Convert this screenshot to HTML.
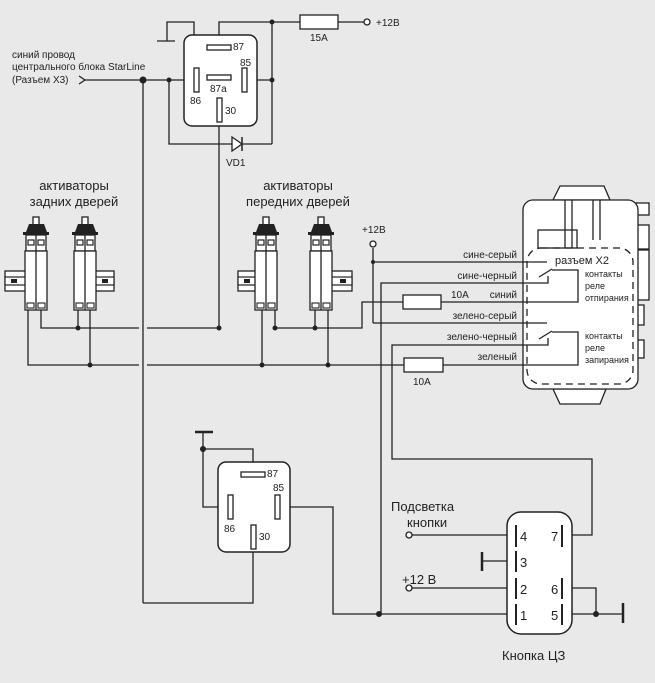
<!DOCTYPE html>
<html><head><meta charset="utf-8"><style>
html,body{margin:0;padding:0;background:#e9e9e9;}
svg{display:block;font-family:"Liberation Sans","DejaVu Sans",sans-serif;}
</style></head><body>
<svg width="655" height="683" viewBox="0 0 655 683" xmlns="http://www.w3.org/2000/svg">
<rect width="655" height="683" fill="#e9e9e9"/>
<defs>
<g id="act">
<rect x="8" y="217" width="6" height="8" fill="#fff" stroke="#222" stroke-width="1.3"/>
<path d="M4 224 H19 L22 232 H24 V235 H-2 V232 H1 Z" fill="#222"/>
<rect x="1" y="235" width="20" height="16" fill="#fff" stroke="#222" stroke-width="1.3"/>
<rect x="3" y="240" width="6" height="5" fill="#fff" stroke="#222" stroke-width="1.2"/>
<rect x="13" y="240" width="6" height="5" fill="#fff" stroke="#222" stroke-width="1.2"/>
<rect x="0" y="251" width="22" height="59" fill="#fff" stroke="#222" stroke-width="1.3"/>
<line x1="11" y1="235" x2="11" y2="310" stroke="#222" stroke-width="1.3"/>
<rect x="2" y="303" width="7" height="5" fill="#fff" stroke="#222" stroke-width="1.1"/>
<rect x="13" y="303" width="7" height="5" fill="#fff" stroke="#222" stroke-width="1.1"/>
</g>
<g id="brL">
<rect x="0" y="271" width="28" height="20" fill="#fff" stroke="#222" stroke-width="1.3"/>
<rect x="0" y="277" width="28" height="8" fill="#fff" stroke="#222" stroke-width="1.2"/>
<rect x="6" y="279" width="6" height="4" fill="#222"/>
</g>
<g id="brR">
<rect x="0" y="271" width="28" height="20" fill="#fff" stroke="#222" stroke-width="1.3"/>
<rect x="0" y="277" width="28" height="8" fill="#fff" stroke="#222" stroke-width="1.2"/>
<rect x="16" y="279" width="6" height="4" fill="#222"/>
</g>
</defs>
<g stroke="#222" stroke-width="1.3" fill="none">
<!-- top relay wires -->
<polyline points="157,41 175,41"/>
<polyline points="167,41 167,22 194,22 194,58 219,58 219,75"/>
<polyline points="219,43 219,22 300,22"/>
<polyline points="338,22 364,22"/>
<line x1="272" y1="22" x2="272" y2="144"/>
<line x1="85" y1="80" x2="194" y2="80"/>
<line x1="247" y1="80" x2="272" y2="80"/>
<polyline points="169,80 169,144 272,144"/>
<line x1="219" y1="122" x2="219" y2="328"/>
<line x1="143" y1="80" x2="143" y2="603"/>
<polyline points="143,603 253,603 253,549"/>
<polyline points="79,76 85,80 79,84"/>
</g>
<rect x="184" y="35" width="73" height="91" rx="8" fill="#fff" stroke="#222" stroke-width="1.5"/>
<g fill="#fff" stroke="#222" stroke-width="1.3">
<rect x="207" y="45" width="24" height="5"/>
<rect x="207" y="75" width="24" height="5"/>
<rect x="194" y="68" width="5" height="24"/>
<rect x="242" y="68" width="5" height="24"/>
<rect x="217" y="98" width="5" height="24"/>
<rect x="300" y="15" width="38" height="14"/>
<circle cx="367" cy="22" r="3"/>
</g>
<path d="M232 137 L242 144 L232 151 Z" fill="#fff" stroke="#222" stroke-width="1.3"/>
<line x1="242" y1="137" x2="242" y2="151" stroke="#222" stroke-width="1.5"/>
<g fill="#222">
<circle cx="143" cy="80" r="3.5"/><circle cx="169" cy="80" r="2.5"/>
<circle cx="272" cy="80" r="2.5"/><circle cx="272" cy="22" r="2.5"/>
<circle cx="219" cy="328" r="2.5"/>
</g>
<g font-size="10" fill="#222">
<text x="233" y="50">87</text><text x="240" y="66">85</text>
<text x="210" y="92">87a</text><text x="190" y="104">86</text><text x="225" y="114">30</text>
<text x="310" y="41">15A</text><text x="376" y="26">+12В</text>
<text x="226" y="166">VD1</text>
<text x="12" y="58">синий провод</text>
<text x="12" y="70">центрального блока StarLine</text>
<text x="12" y="83">(Разъем X3)</text>
</g>
<!-- actuator labels -->
<g font-size="13" fill="#222" text-anchor="middle">
<text x="74" y="190">активаторы</text><text x="74" y="206">задних дверей</text>
<text x="298" y="190">активаторы</text><text x="298" y="206">передних дверей</text>
</g>
<!-- actuator wires -->
<g stroke="#222" stroke-width="1.3" fill="none">
<polyline points="41,310 41,328 139,328"/>
<line x1="147" y1="328" x2="219" y2="328"/>
<line x1="78" y1="310" x2="78" y2="328"/>
<polyline points="28,310 28,365 139,365"/>
<line x1="147" y1="365" x2="404" y2="365"/>
<line x1="90" y1="310" x2="90" y2="365"/>
<line x1="262" y1="310" x2="262" y2="365"/>
<line x1="328" y1="310" x2="328" y2="365"/>
<polyline points="275,310 275,328 362,328 362,302 403,302"/>
<line x1="315" y1="310" x2="315" y2="328"/>
<line x1="441" y1="302" x2="523" y2="302"/>
<line x1="443" y1="365" x2="523" y2="365"/>
<line x1="373" y1="248" x2="373" y2="323"/>
<line x1="373" y1="262" x2="523" y2="262"/>
<line x1="373" y1="323" x2="523" y2="323"/>
<polyline points="523,283 381,283 381,614"/>
<polyline points="523,345 392,345 392,459 592,459 592,535 562,535"/>
</g>
<g fill="#222">
<circle cx="78" cy="328" r="2.5"/><circle cx="90" cy="365" r="2.5"/>
<circle cx="275" cy="328" r="2.5"/><circle cx="315" cy="328" r="2.5"/>
<circle cx="262" cy="365" r="2.5"/><circle cx="328" cy="365" r="2.5"/>
<circle cx="373" cy="262" r="2"/>
</g>
<use href="#brL" x="5"/><use href="#act" x="25"/>
<use href="#brR" x="86"/><use href="#act" x="74"/>
<use href="#brL" x="238"/><use href="#act" x="255"/>
<use href="#brR" x="324"/><use href="#act" x="310"/>
<g fill="#fff" stroke="#222" stroke-width="1.3">
<circle cx="373" cy="244" r="3"/>
<rect x="403" y="295" width="38" height="14"/>
<rect x="404" y="358" width="39" height="14"/>
</g>
<g font-size="10" fill="#222">
<text x="362" y="233">+12В</text>
<text x="451" y="298">10A</text><text x="413" y="385">10A</text>
</g>
<g font-size="10" fill="#222" text-anchor="end">
<text x="517" y="258">сине-серый</text><text x="517" y="279">сине-черный</text>
<text x="517" y="298">синий</text><text x="517" y="319">зелено-серый</text>
<text x="517" y="340">зелено-черный</text><text x="517" y="360">зеленый</text>
</g>
<!-- module X2 -->
<g fill="#fff" stroke="#222" stroke-width="1.3">
<path d="M553 200 L560 186 H604 L610 200 Z"/>
<path d="M553 389 L560 404 H600 L606 389 Z"/>
<rect x="636" y="203" width="13" height="12"/>
<rect x="636" y="225" width="13" height="24"/>
<rect x="636" y="250" width="13" height="50"/>
<rect x="636" y="305" width="8" height="20"/>
<rect x="636" y="340" width="8" height="18"/>
<rect x="523" y="200" width="115" height="189" rx="10"/>
</g>
<g stroke="#222" stroke-width="1.3" fill="none">
<rect x="538" y="230" width="39" height="18" fill="#fff"/>
<line x1="565" y1="200" x2="565" y2="248"/><line x1="572" y1="200" x2="572" y2="248"/>
<line x1="593" y1="200" x2="593" y2="240"/><line x1="600" y1="200" x2="600" y2="240"/>
<rect x="527" y="248" width="106" height="136" rx="14" stroke-dasharray="7,5"/>
<line x1="523" y1="262" x2="547" y2="262"/>
<polyline points="523,283 548,283 548,276"/><line x1="539" y1="277" x2="552" y2="269"/>
<polyline points="552,270 578,270 578,302 523,302"/>
<line x1="523" y1="323" x2="547" y2="323"/>
<polyline points="523,345 548,345 548,338"/><line x1="539" y1="339" x2="552" y2="331"/>
<polyline points="552,332 578,332 578,365 523,365"/>
</g>
<g fill="#222">
<text x="555" y="264" font-size="11">разъем X2</text>
<g font-size="9"><text x="585" y="277">контакты</text><text x="585" y="289">реле</text><text x="585" y="301">отпирания</text>
<text x="585" y="339">контакты</text><text x="585" y="351">реле</text><text x="585" y="363">запирания</text></g>
</g>
<!-- bottom relay -->
<g stroke="#222" stroke-width="1.3" fill="none">
<line x1="195" y1="432" x2="213" y2="432" stroke-width="2.5"/>
<polyline points="203,432 203,507 228,507"/>
<polyline points="203,449 253,449 253,472"/>
<polyline points="280,507 333,507 333,614 516,614"/>
</g>
<rect x="218" y="462" width="72" height="90" rx="8" fill="#fff" stroke="#222" stroke-width="1.5"/>
<g fill="#fff" stroke="#222" stroke-width="1.3">
<rect x="241" y="472" width="24" height="5"/>
<rect x="228" y="495" width="5" height="24"/>
<rect x="275" y="495" width="5" height="24"/>
<rect x="251" y="525" width="5" height="24"/>
</g>
<g font-size="10" fill="#222">
<text x="267" y="477">87</text><text x="273" y="491">85</text>
<text x="224" y="532">86</text><text x="259" y="540">30</text>
</g>
<g fill="#222"><circle cx="203" cy="449" r="3"/><circle cx="379" cy="614" r="3"/><circle cx="596" cy="614" r="3"/></g>
<!-- button -->
<g stroke="#222" stroke-width="1.3" fill="none">
<line x1="412" y1="535" x2="516" y2="535"/>
<line x1="482" y1="561" x2="516" y2="561"/>
<line x1="482" y1="552" x2="482" y2="571" stroke-width="2.5"/>
<line x1="412" y1="588" x2="516" y2="588"/>
<polyline points="562,588 596,588 596,614"/>
<line x1="562" y1="614" x2="623" y2="614"/>
<line x1="623" y1="603" x2="623" y2="623" stroke-width="2.5"/>
</g>
<rect x="507" y="512" width="65" height="122" rx="14" fill="#fff" stroke="#222" stroke-width="1.5"/>
<g stroke="#222" stroke-width="2">
<line x1="516" y1="525" x2="516" y2="547"/><line x1="516" y1="551" x2="516" y2="572"/>
<line x1="516" y1="578" x2="516" y2="599"/><line x1="516" y1="604" x2="516" y2="625"/>
<line x1="562" y1="525" x2="562" y2="547"/><line x1="562" y1="578" x2="562" y2="599"/>
<line x1="562" y1="604" x2="562" y2="625"/>
</g>
<g font-size="13" fill="#222">
<text x="520" y="541">4</text><text x="520" y="567">3</text><text x="520" y="594">2</text><text x="520" y="620">1</text>
<text x="551" y="541">7</text><text x="551" y="594">6</text><text x="551" y="620">5</text>
<text x="391" y="511">Подсветка</text><text x="407" y="527">кнопки</text>
<text x="402" y="584">+12 В</text>
<text x="502" y="660">Кнопка ЦЗ</text>
</g>
<g fill="#fff" stroke="#222" stroke-width="1.3">
<circle cx="409" cy="535" r="3"/><circle cx="409" cy="588" r="3"/>
</g>
</svg>
</body></html>
